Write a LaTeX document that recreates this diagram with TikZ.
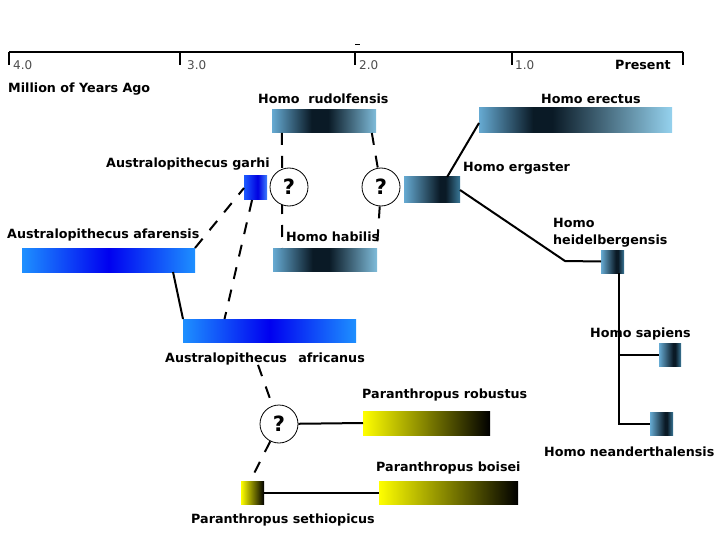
\documentclass[tikz,border=0pt]{standalone}
\usepackage{fontspec}
\setmainfont{DejaVu Sans}
\usetikzlibrary{calc}
\definecolor{hL}{HTML}{66AAD2}
\definecolor{hD}{HTML}{0A1A26}
\definecolor{hR}{HTML}{7FBCDA}
\definecolor{hRE}{HTML}{95D2EE}
\definecolor{hRS}{HTML}{3A7898}
\definecolor{aL}{HTML}{1E90FF}
\definecolor{aM}{HTML}{0000F0}
\definecolor{gL}{HTML}{1D5BFF}
\definecolor{gM}{HTML}{0000E0}
\definecolor{gR}{HTML}{3D7FFF}
\pgfdeclarehorizontalshading{homoMid}{100bp}{color(0bp)=(hL); color(25bp)=(hL); color(44bp)=(hD); color(52bp)=(hD); color(75bp)=(hR); color(100bp)=(hR)}
\pgfdeclarehorizontalshading{homoErect}{100bp}{color(0bp)=(hL); color(25bp)=(hL); color(39bp)=(hD); color(44bp)=(hD); color(75bp)=(hRE); color(100bp)=(hRE)}
\pgfdeclarehorizontalshading{homoRight}{100bp}{color(0bp)=(hL); color(25bp)=(hL); color(57bp)=(hD); color(62bp)=(hD); color(75bp)=(hRS); color(100bp)=(hRS)}
\pgfdeclarehorizontalshading{garhiShade}{100bp}{color(0bp)=(gL); color(25bp)=(gL); color(55bp)=(gM); color(75bp)=(gR); color(100bp)=(gR)}
\pgfdeclarehorizontalshading{austroShade}{100bp}{color(0bp)=(aL); color(25bp)=(aL); color(50bp)=(aM); color(75bp)=(aL); color(100bp)=(aL)}
\tikzset{
  bx/.style={inner sep=0pt, outer sep=0pt, minimum height=23pt, anchor=north west, draw=none, shade},
  homomid/.style={bx, shading=homoMid},
  homoright/.style={bx, shading=homoRight},
  austro/.style={bx, shading=austroShade},
  para/.style={bx, left color=yellow, right color=black},
  lbl/.style={inner sep=0pt, anchor=base west, font=\bfseries\fontsize{12.7}{14}\selectfont},
  tick/.style={inner sep=0pt, anchor=base west, text=black!70, font=\fontsize{12}{14}\selectfont},
  qmark/.style={circle, draw, line width=0.8pt, fill=white, minimum size=38pt, inner sep=0pt, font=\bfseries\fontsize{21}{21}\selectfont},
  ln/.style={line width=2pt},
  dl/.style={line width=2pt, dash pattern=on 12pt off 11pt},
}
\begin{document}
\begin{tikzpicture}[x=1pt, y=-1pt]
\useasboundingbox (0,0) rectangle (720,540);
% time axis
\coordinate (ax0) at (9,52);
\coordinate (ax1) at (180,52);
\coordinate (ax2) at (355,52);
\coordinate (ax3) at (512,52);
\coordinate (ax4) at (683,52);
\draw[line width=2.4pt] (ax0) -- (ax4);
\foreach \c in {ax0,ax1,ax2,ax3,ax4} \draw[line width=2.4pt] (\c) -- ++(0,13);
\coordinate (dsh) at (355,44);
\draw[line width=0.8pt] (dsh) -- ++(5,0);
\node[tick] (t4) at (13,70) {4.0};
\node[tick] (t3) at (187,70) {3.0};
\node[tick] (t2) at (359,70) {2.0};
\node[tick] (t1) at (515,70) {1.0};
\node[lbl] (tp) at (615,70) {Present};
\node[lbl] (mya) at (8,93) {Million of Years Ago};

% boxes
\node[homomid, minimum width=104pt] (rud) at (272,110) {};
\node[bx, shading=homoErect, minimum width=193pt, minimum height=25pt] (ere) at (479,108) {};
\node[bx, shading=garhiShade, minimum width=23pt, minimum height=24pt] (gar) at (244,176) {};
\node[homoright, minimum width=56pt, minimum height=26pt] (erg) at (404,177) {};
\node[austro, minimum width=173pt, minimum height=24pt] (afa) at (22,248) {};
\node[homomid, minimum width=104pt] (hab) at (273,248) {};
\node[homoright, minimum width=23pt] (hei) at (601,250) {};
\node[austro, minimum width=173pt] (afr) at (183,319) {};
\node[homoright, minimum width=22pt] (sap) at (659,343) {};
\node[homoright, minimum width=23pt] (nea) at (650,412) {};
\node[para, minimum width=127pt, minimum height=24pt] (rob) at (363,411) {};
\node[para, minimum width=139pt] (boi) at (379,481) {};
\node[para, minimum width=23pt] (set) at (241,481) {};

% labels
\node[lbl] (lrud) at (258,104) {Homo\ \ rudolfensis};
\node[lbl] (lere) at (541,104) {Homo erectus};
\node[lbl] (lgar) at (106,168) {Australopithecus garhi};
\node[lbl] (lerg) at (463,172) {Homo ergaster};
\node[lbl] (lafa) at (7,238) {Australopithecus afarensis};
\node[lbl] (lhab) at (286,241) {Homo habilis};
\node[lbl] (lhei1) at (553,227) {Homo};
\node[lbl] (lhei2) at (553,244) {heidelbergensis};
\node[lbl] (lafr) at (165,362) {Australopithecus\hspace{0.9em}africanus};
\node[lbl] (lrob) at (362,398) {Paranthropus robustus};
\node[lbl] (lboi) at (376,471) {Paranthropus boisei};
\node[lbl] (lset) at (191,523) {Paranthropus sethiopicus};
\node[lbl] (lsap) at (590,337) {Homo sapiens};
\node[lbl] (lnea) at (544,456) {Homo neanderthalensis};

% connectors (drawn before question circles)
\draw[dl] (afa.north east) -- (gar.west);
\draw[ln] ($(afa.south west)!0.873!(afa.south east)$) -- (afr.north west);
\draw[dl] ($(gar.south west)!0.35!(gar.south east)$) -- ($(afr.north west)!0.24!(afr.north east)$);
\draw[dl] ($(rud.south west)!0.096!(rud.south east)$) -- ($(hab.north west)!0.087!(hab.north east)$);
\node[qmark] (q1) at (289,187) {?};
\node[qmark] (q2) at (381,187) {?};
\draw[dl] ($(rud.south west)!0.96!(rud.south east)$) -- (q2);
\draw[dl] (q2) -- (hab.north east);
\draw[ln] ($(erg.north west)!0.77!(erg.north east)$) -- ($(ere.north west)!0.6!(ere.south west)$);
\coordinate (bend) at (565,261);
\draw[ln] (erg.east) -- (bend) -- (hei.west);
\coordinate (trunk) at ($(hei.south west)!0.78!(hei.south east)$);
\draw[ln] (trunk) |- (nea.west);
\draw[ln] (trunk |- sap.west) -- (sap.west);
\node[qmark] (q3) at (279,424) {?};
\draw[dl] ($(lafr.south west)!0.465!(lafr.south east)$) -- (q3);
\draw[dl] (q3) -- ($(set.north west)!0.4!(set.north east)$);
\draw[ln] (q3) -- (rob.west);
\draw[ln] (set.east) -- (boi.west);
\end{tikzpicture}
\end{document}
